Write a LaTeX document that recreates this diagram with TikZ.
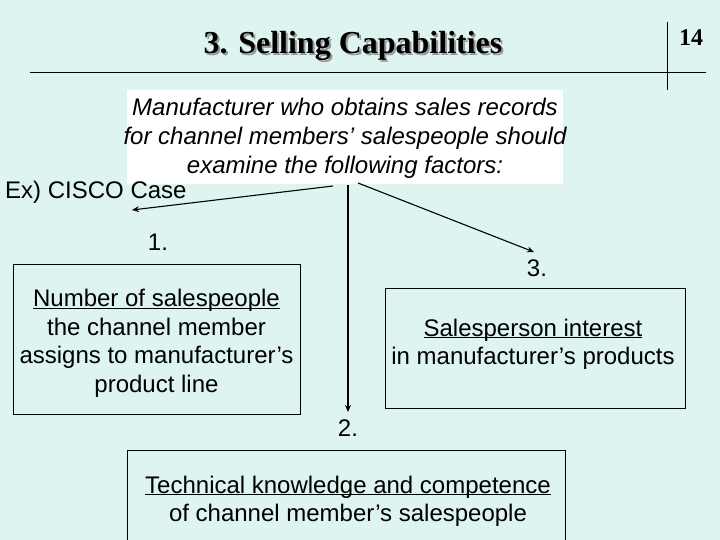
\documentclass[tikz,border=0pt]{standalone}
\usepackage{fontspec}
\setmainfont{Liberation Sans}
\newfontfamily\titlefont{Liberation Serif}
\usetikzlibrary{arrows.meta}
\definecolor{bgc}{RGB}{221,244,240}
\newcommand\myuline[1]{\underline{\smash{#1}}}
\newcommand\shadowtext[1]{\rlap{\hspace{2pt}\raisebox{-2pt}{\textcolor{black!40}{#1}}}#1}
\tikzset{
  body/.style={font=\fontsize{24}{28.5}\selectfont, align=center, inner sep=0pt},
  factorbox/.style={draw=black, line width=0.9pt},
  conn/.style={draw=black, line width=1.1pt, -{Stealth[length=7pt,width=6pt]}},
}
\begin{document}
\begin{tikzpicture}[x=1pt,y=-1pt]
\fill[bgc] (0,0) rectangle (720,540);
\useasboundingbox (0,0) rectangle (720,540);
% title
\node[font=\titlefont\bfseries\fontsize{32}{36}\selectfont, inner sep=0pt] (title) at (353,47) {\shadowtext{3. Selling Capabilities}};
\node[font=\titlefont\bfseries\fontsize{24}{28}\selectfont, inner sep=0pt] (num) at (691,38) {14};
\coordinate (hl) at (30,72); \coordinate (hr) at (706,72);
\coordinate (vt) at (667,22); \coordinate (vb) at (667,90);
\draw[line width=0.9pt] (hl) -- (hr);
\draw[line width=0.9pt] (vt) -- (vb);
% top box
\node[fill=white, minimum width=436pt, minimum height=94pt, inner sep=0pt] (top) at (345,137) {};
\node[body, font=\itshape\fontsize{24}{29}\selectfont] (toptext) at (345,138) {Manufacturer who obtains sales records\\for channel members’ salespeople should\\examine the following factors:};
\node[body, anchor=west] (ex) at (5,192) {Ex) CISCO Case};
% arrow end points
\coordinate (a1s) at (333,186); \coordinate (a1e) at (132,210);
\coordinate (a2s) at (348,185); \coordinate (a2e) at (348,412);
\coordinate (a3s) at (358,183); \coordinate (a3e) at (534,252);
\draw[conn] (a1s) -- (a1e);
\draw[conn] (a2s) -- (a2e);
\draw[conn] (a3s) -- (a3e);
\node[body] (l1) at (158,242) {1.};
\node[body] (l2) at (348,428) {2.};
\node[body] (l3) at (537,268) {3.};
% factor boxes
\draw[factorbox] (13,264) rectangle (300,414);
\node[body] (f1) at (156.5,352) {\myuline{Number of salespeople}\\the channel member\\assigns to manufacturer’s\\product line};
\draw[factorbox] (385,288) rectangle (685,408);
\node[body] (f3) at (533,353) {\myuline{Salesperson interest}\\in manufacturer’s products};
\draw[factorbox] (127,450) rectangle (565,545);
\node[body] (f2) at (348,510) {\myuline{Technical knowledge and competence}\\of channel member’s salespeople};
\end{tikzpicture}
\end{document}
